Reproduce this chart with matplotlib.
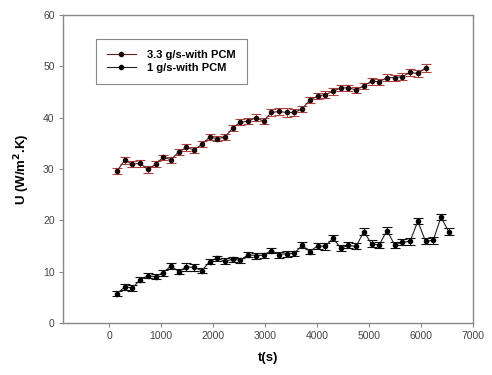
import matplotlib.pyplot as plt
from matplotlib.lines import Line2D

plt.rcParams['font.family'] = ['Liberation Sans', 'DejaVu Sans']

# time (s)
t_hi = [150, 298, 447, 595, 744, 892, 1041, 1189, 1338, 1486, 1635, 1783, 1932, 2080,
        2229, 2377, 2526, 2674, 2823, 2971, 3120, 3268, 3417, 3565, 3714, 3862, 4011,
        4159, 4308, 4456, 4605, 4753, 4902, 5050, 5199, 5347, 5496, 5644, 5793, 5941, 6090]
t_lo = [150, 298, 447, 595, 744, 892, 1041, 1189, 1338, 1486, 1635, 1783, 1932, 2080,
        2229, 2377, 2526, 2674, 2823, 2971, 3120, 3268, 3417, 3565, 3714, 3862, 4011,
        4159, 4308, 4456, 4605, 4753, 4902, 5050, 5199, 5347, 5496, 5644, 5793, 5941,
        6090, 6238, 6387, 6535]

# U (W/m2.K)
u_hi = [29.6, 31.7, 30.9, 31.1, 29.9, 30.9, 32.3, 31.8, 33.3, 34.2, 33.7, 34.8, 36.2, 35.9,
        36.2, 38.0, 39.1, 39.3, 40.0, 39.3, 41.0, 41.2, 41.0, 41.0, 41.7, 43.4, 44.2,
        44.5, 45.1, 45.8, 45.8, 45.4, 46.2, 47.1, 47.0, 47.8, 47.8, 48.0, 48.8, 48.6, 49.7]
u_lo = [5.7, 7.0, 6.8, 8.4, 9.2, 9.0, 9.8, 11.1, 10.0, 10.9, 10.8, 10.2, 11.9, 12.6,
        12.0, 12.4, 12.2, 13.3, 13.1, 13.2, 14.1, 13.3, 13.5, 13.6, 15.1, 13.9, 15.0,
        14.9, 16.5, 14.6, 15.1, 14.9, 17.8, 15.4, 15.2, 18.0, 15.2, 15.7, 15.9, 19.8,
        15.9, 16.1, 20.6, 17.8]

err_hi = [0.6, 0.7, 0.6, 0.7, 0.6, 0.6, 0.5, 0.6, 0.6, 0.7, 0.6, 0.6, 0.6, 0.5,
          0.6, 0.6, 0.6, 0.6, 0.7, 0.6, 0.6, 0.6, 0.8, 0.7, 0.6, 0.6, 0.6,
          0.6, 0.7, 0.6, 0.6, 0.6, 0.6, 0.7, 0.6, 0.7, 0.6, 0.6, 0.7, 0.6, 0.8]
err_lo = [0.5, 0.6, 0.6, 0.5, 0.5, 0.5, 0.6, 0.6, 0.5, 0.7, 0.6, 0.5, 0.5, 0.5,
          0.6, 0.5, 0.5, 0.5, 0.6, 0.5, 0.5, 0.6, 0.6, 0.5, 0.6, 0.5, 0.6,
          0.7, 0.6, 0.5, 0.6, 0.6, 0.6, 0.7, 0.6, 0.6, 0.6, 0.6, 0.7, 0.6,
          0.6, 0.7, 0.6, 0.6]

fig = plt.figure(figsize=(4.92, 3.75), dpi=100)
ax = fig.add_axes([0.128, 0.139, 0.833, 0.821])

ax.errorbar(t_hi, u_hi, yerr=err_hi, color='#5c1f1f', ecolor='#b0413e', elinewidth=0.8,
            capsize=3.5, capthick=0.8, marker='o', ms=3, mfc='#1a0a0a', mec='#1a0a0a',
            lw=0.8)
ax.errorbar(t_lo, u_lo, yerr=err_lo, color='#222222', ecolor='#111111', elinewidth=0.8,
            capsize=3.5, capthick=0.8, marker='o', ms=3, mfc='black', mec='black',
            lw=0.8)

ax.set_xlim(-890, 7000)
ax.set_ylim(0, 60)
ax.set_xticks([0, 1000, 2000, 3000, 4000, 5000, 6000, 7000])
ax.set_yticks([0, 10, 20, 30, 40, 50, 60])

for s in ax.spines.values():
    s.set_color('#888888')
    s.set_linewidth(1.0)
ax.tick_params(direction='out', length=3, pad=3, color='#888888', labelcolor='#444444',
               labelsize=7.5)

ax.set_xlabel('t(s)', fontsize=9.5, fontweight='bold', labelpad=8)
ax.set_ylabel('U (W/m$^{\\mathbf{2}}$.K)', fontsize=9.5, fontweight='bold', labelpad=8)

handles = [Line2D([], [], color='#5c1f1f', lw=0.8, marker='o', ms=3, mfc='#1a0a0a', mec='#1a0a0a'),
           Line2D([], [], color='#222222', lw=0.8, marker='o', ms=3, mfc='black', mec='black')]
leg = ax.legend(handles, ['3.3 g/s-with PCM', '1 g/s-with PCM'],
                loc='upper left', bbox_to_anchor=(0.08, 0.922), borderaxespad=0,
                fancybox=False, framealpha=1, edgecolor='#888888', handlelength=2.6,
                prop={'size': 8, 'weight': 'bold'}, borderpad=1.0, labelspacing=0.25,
                handletextpad=1.0)
leg.get_frame().set_linewidth(0.8)

fig.savefig('out.png', dpi=100)
